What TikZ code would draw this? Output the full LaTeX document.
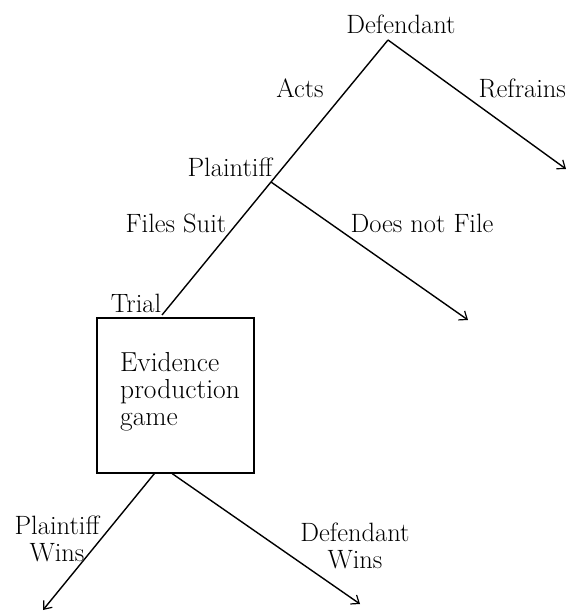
\documentclass[tikz,border=0pt]{standalone}
\usepackage{tikz}
\usetikzlibrary{arrows.meta}

\begin{document}
\begin{tikzpicture}[x=1pt,y=1pt,
  lbl/.style={inner sep=0pt, outer sep=0pt, font=\fontsize{26.5}{27}\selectfont},
  branch/.style={line width=1.4pt, line join=round},
  move/.style={branch, -{Straight Barb[length=7pt,width=11pt,line width=1.2pt]}}]
\path[use as bounding box] (0,0) rectangle (567,612);

% decision points and ends
\coordinate (defpt) at (388,572);
\coordinate (plpt) at (271,430);
\coordinate (trial) at (162,297);
\coordinate (refend) at (566,443);
\coordinate (nofend) at (468,292);
\coordinate (pwend) at (43,2);
\coordinate (dwend) at (360,8);

% evidence box
\node[draw, line width=1.4pt, minimum width=157pt, minimum height=155pt, inner sep=0pt] (game) at (175.5,216.5) {};
\node[inner sep=0pt, anchor=west, align=left, font=\fontsize{27.5}{27}\selectfont] (gametext) at (120,220) {Evidence\\production\\game};

% branches
\draw[branch] (defpt) -- (plpt) -- (trial);
\draw[move] (defpt) -- (refend);
\draw[move] (plpt) -- (nofend);
\draw[move] (game.south west) ++(58,0) coordinate (pwstart) -- (pwend);
\draw[move] (game.south west) ++(76,0) coordinate (dwstart) -- (dwend);

% labels
\node[lbl] (deflbl) at (401,588) {Defendant};
\node[lbl] (acts) at (300,524) {Acts};
\node[lbl, anchor=east] (refr) at (566,524) {Refrains};
\node[lbl] (pllbl) at (230,445) {Plaintiff};
\node[lbl] (files) at (176,389) {Files Suit};
\node[lbl] (nofile) at (422,389) {Does not File};
\node[lbl] (triallbl) at (136,309) {Trial};
\node[lbl, align=center] (pwins) at (57,73) {Plaintiff\\Wins};
\node[lbl, align=center] (dwins) at (355,66) {Defendant\\Wins};
\end{tikzpicture}
\end{document}
